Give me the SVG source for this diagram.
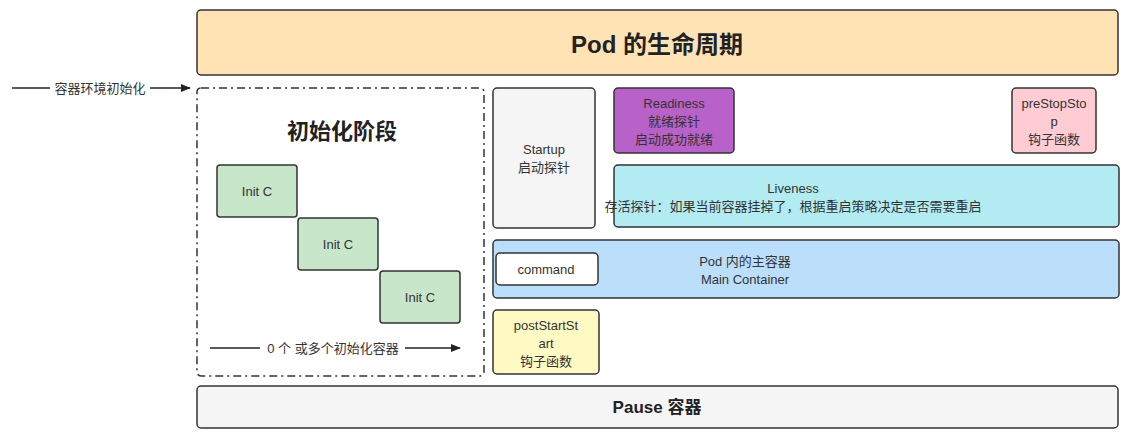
<svg xmlns="http://www.w3.org/2000/svg" width="1144" height="439" viewBox="0 0 1144 439">
<style>
text{font-family:"Liberation Sans","Noto Sans CJK SC",sans-serif;font-size:13px;fill:#333;text-anchor:middle}
.b{stroke:#333;stroke-width:1.5}
.t{font-weight:bold;fill:#222}
.c{stroke:#222;stroke-width:1.5;fill:none}
</style>
<defs><marker id="a" markerWidth="10" markerHeight="8" refX="9" refY="4" orient="auto" markerUnits="userSpaceOnUse"><path d="M0,0L10,4L0,8z" fill="#222"/></marker></defs>
<rect width="1144" height="439" fill="#fff"/>
<g id="title"><rect class="b" x="197" y="10" width="921" height="65" rx="4" fill="#ffe3b4"/><text class="t" x="657" y="53" style="font-size:24px">Pod 的生命周期</text></g>
<g id="init-stage"><rect x="197" y="88" width="287" height="288" rx="4" fill="none" stroke="#333" stroke-width="1.5" stroke-dasharray="8,4,2,4"/><text class="t" x="342" y="139" style="font-size:22px">初始化阶段</text></g>
<g id="init1"><rect class="b" x="217" y="165" width="80" height="52" rx="3" fill="#c8e6c9"/><text x="257" y="196">Init C</text></g>
<g id="init2"><rect class="b" x="298" y="218" width="80" height="52" rx="3" fill="#c8e6c9"/><text x="338" y="249">Init C</text></g>
<g id="init3"><rect class="b" x="380" y="271" width="80" height="52" rx="3" fill="#c8e6c9"/><text x="420" y="302">Init C</text></g>
<g id="startup"><rect class="b" x="493" y="88" width="102" height="140" rx="4" fill="#f5f5f5"/><text x="544" y="154">Startup</text><text x="544" y="172">启动探针</text></g>
<g id="readiness"><rect class="b" x="614" y="88" width="120" height="65" rx="4" fill="#b861c8"/><text x="674" y="108">Readiness</text><text x="674" y="126">就绪探针</text><text x="674" y="144">启动成功就绪</text></g>
<g id="prestop"><rect class="b" x="1012" y="88" width="84" height="65" rx="4" fill="#ffccd3"/><text x="1054" y="108">preStopSto</text><text x="1054" y="126">p</text><text x="1054" y="144">钩子函数</text></g>
<g id="liveness"><rect class="b" x="614" y="165" width="505" height="62" rx="4" fill="#b2ebf2"/><text x="793" y="193">Liveness</text><text x="793" y="211">存活探针：如果当前容器挂掉了，根据重启策略决定是否需要重启</text></g>
<g id="main"><rect class="b" x="493" y="240" width="626" height="58" rx="4" fill="#bbdefb"/><text x="745" y="266">Pod 内的主容器</text><text x="745" y="284">Main Container</text></g>
<g id="command"><rect class="b" x="496" y="253" width="102" height="32" rx="4" fill="#fff"/><text x="546" y="274">command</text></g>
<g id="poststart"><rect class="b" x="493" y="310" width="106" height="64" rx="4" fill="#fff9c4"/><text x="546" y="330">postStartSt</text><text x="546" y="348">art</text><text x="546" y="366">钩子函数</text></g>
<g id="pause"><rect class="b" x="197" y="386" width="921" height="42" rx="4" fill="#f5f5f5"/><text class="t" x="657" y="413" style="font-size:17px">Pause 容器</text></g>
<g id="connectors">
<path class="c" d="M12,88H190" marker-end="url(#a)"/>
<rect x="50" y="80" width="100" height="16" fill="#fff"/><text x="100" y="93">容器环境初始化</text>
<path class="c" d="M210,348H460" marker-end="url(#a)"/>
<rect x="260" y="340" width="145" height="16" fill="#fff"/><text x="333" y="353">0 个 或多个初始化容器</text>
</g>
</svg>
